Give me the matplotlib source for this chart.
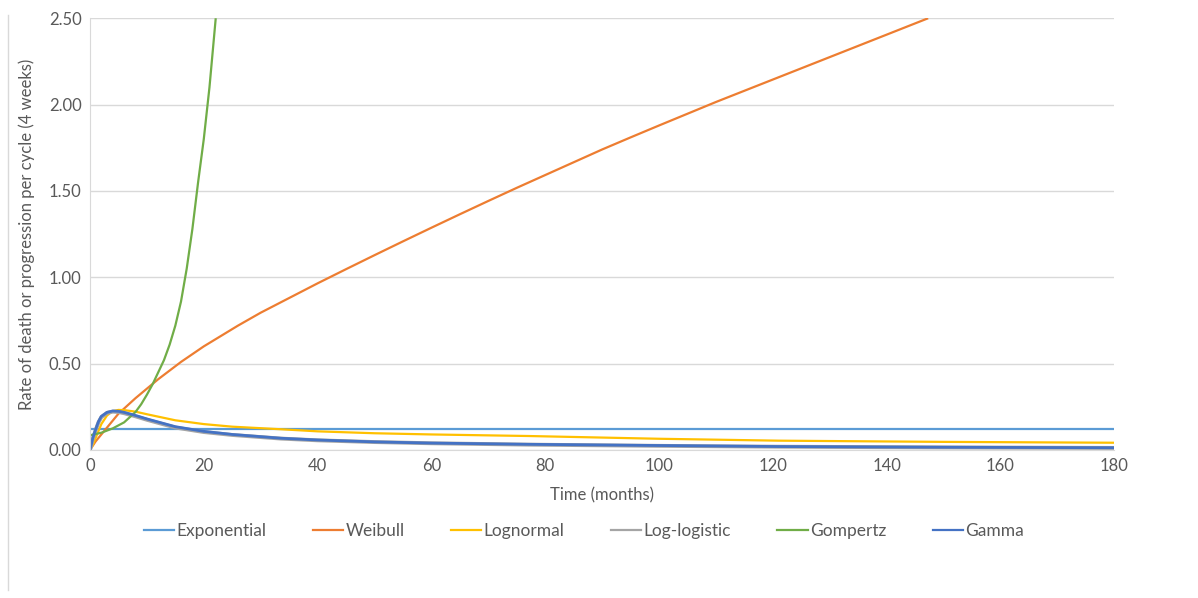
import numpy as np
import matplotlib
matplotlib.use('Agg')
import matplotlib.pyplot as plt
from matplotlib.lines import Line2D

# values (month, rate per 4-week cycle)
exp_months = [0, 180]
exp_rate = [0.124, 0.124]

weib_months = [0, 1, 2, 3, 4, 5, 6, 8, 10, 12, 14, 16, 18, 20, 23, 26, 30, 35, 40, 45, 50,
               55, 60, 65, 70, 75, 80, 85, 90, 95, 100, 105, 110, 115, 120, 125, 130, 135,
               140, 147.3]
weib_rate = [0.0, 0.05, 0.09, 0.13, 0.17, 0.21, 0.24, 0.3, 0.355, 0.41, 0.46, 0.51, 0.555, 0.6,
             0.66, 0.72, 0.795, 0.88, 0.965, 1.047, 1.128, 1.208, 1.287, 1.365, 1.442, 1.518,
             1.592, 1.666, 1.74, 1.81, 1.879, 1.947, 2.015, 2.08, 2.145, 2.21, 2.275, 2.34,
             2.405, 2.5]

logn_months = [0, 0.5, 1, 2, 3, 4, 5, 6, 8, 10, 15, 20, 25, 33.6, 40, 50, 60, 77, 100, 121, 150, 180]
logn_rate = [0.0, 0.03, 0.07, 0.15, 0.2, 0.225, 0.232, 0.231, 0.222, 0.207, 0.172, 0.15, 0.135,
             0.12, 0.108, 0.097, 0.09, 0.081, 0.065, 0.054, 0.047, 0.042]

llog_months = [0, 0.5, 1, 1.5, 2, 3, 4, 5, 6, 8, 10, 15, 20, 25, 33.6, 40, 50, 60, 77, 100, 121, 150, 180]
llog_rate = [0.0, 0.065, 0.115, 0.16, 0.19, 0.215, 0.222, 0.22, 0.213, 0.195, 0.175, 0.13, 0.104,
             0.087, 0.066, 0.056, 0.046, 0.039, 0.031, 0.024, 0.019, 0.015, 0.012]

gomp_months = [0, 2, 4, 6, 8, 9, 10, 11, 12, 13, 14, 15, 16, 17, 18, 19, 20, 21, 22.1]
gomp_rate = [0.085, 0.1, 0.125, 0.16, 0.22, 0.265, 0.32, 0.38, 0.45, 0.52, 0.61, 0.72, 0.86,
             1.05, 1.28, 1.55, 1.8, 2.1, 2.5]

gam_months = [0, 0.5, 1, 1.5, 2, 3, 4, 5, 6, 8, 10, 15, 20, 25, 33.6, 40, 50, 60, 77, 100, 121, 150, 180]
gam_rate = [0.0, 0.07, 0.12, 0.165, 0.195, 0.218, 0.226, 0.224, 0.218, 0.2, 0.18, 0.135, 0.108,
            0.09, 0.068, 0.058, 0.047, 0.04, 0.033, 0.026, 0.02, 0.016, 0.013]

x_ticks = [0, 20, 40, 60, 80, 100, 120, 140, 160, 180]
y_ticks = [0.0, 0.5, 1.0, 1.5, 2.0, 2.5]

series = [
    ('Exponential', exp_months, exp_rate, '#5B9BD5', 1.6),
    ('Weibull', weib_months, weib_rate, '#ED7D31', 1.6),
    ('Lognormal', logn_months, logn_rate, '#FFC000', 1.6),
    ('Log-logistic', llog_months, llog_rate, '#A5A5A5', 2.8),
    ('Gompertz', gomp_months, gomp_rate, '#70AD47', 1.6),
    ('Gamma', gam_months, gam_rate, '#4472C4', 2.0),
]

plt.rcParams['font.family'] = ['Lato', 'DejaVu Sans']
txt = '#595959'
fs = 12

fig = plt.figure(figsize=(11.98, 5.98), dpi=100)
ax = fig.add_axes([0.0751, 0.2475, 0.855, 0.722])

for name, xs, ys, col, lw in series:
    ax.plot(xs, ys, color=col, lw=lw, label=name, solid_capstyle='butt')

ax.set_xlim(0, 180)
ax.set_ylim(0, 2.5)
ax.set_xticks(x_ticks)
ax.set_yticks(y_ticks)
ax.set_yticklabels(['{:.2f}'.format(v) for v in y_ticks])
ax.tick_params(length=0, labelsize=fs, colors=txt, pad=6)
ax.grid(axis='y', color='#D9D9D9', lw=1)
ax.set_axisbelow(True)
for s in ['top', 'right']:
    ax.spines[s].set_visible(False)
for s in ['left', 'bottom']:
    ax.spines[s].set_color('#D9D9D9')

ax.set_xlabel('Time (months)', fontsize=fs, color=txt, labelpad=9)
ax.set_ylabel('Rate of death or progression per cycle (4 weeks)', fontsize=fs, color=txt, labelpad=10)

handles = [Line2D([0], [0], color=c, lw=1.6) for _, _, _, c, _ in series]
fig.legend(handles, [s[0] for s in series], loc='center', bbox_to_anchor=(0.4875, 0.112),
           ncol=6, frameon=False, fontsize=12.5, handlelength=1.75, handletextpad=0.15,
           columnspacing=2.65, labelcolor=txt)

# outer chart frame edge on the left
fig.add_artist(Line2D([0.0067, 0.0067], [0.013, 0.975], color='#D9D9D9', lw=1))

fig.savefig('out.png', dpi=100)
